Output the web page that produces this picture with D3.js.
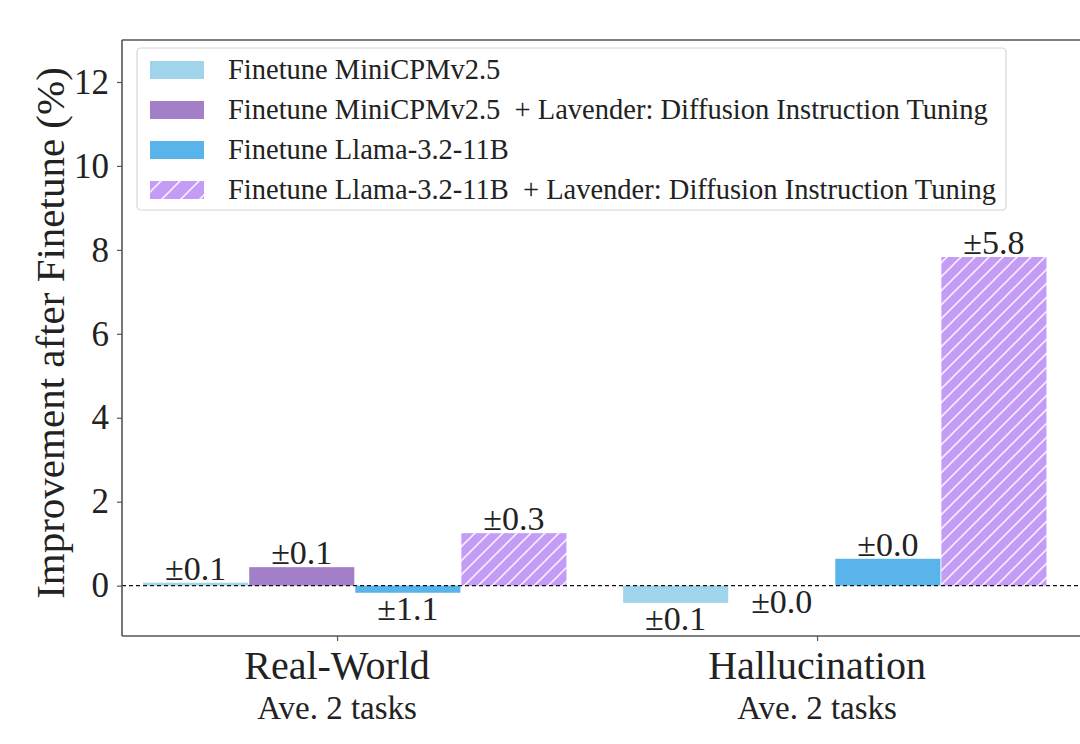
<!DOCTYPE html>
<html>
<head>
<meta charset="utf-8">
<script src="https://cdn.jsdelivr.net/npm/d3@7"></script>
<style>
  html, body { margin: 0; padding: 0; background: #fff; }
  svg { display: block; }
  text { font-family: "Liberation Serif", "Times New Roman", serif; fill: #222; }
</style>
</head>
<body>
<svg id="chart" width="1080" height="744"></svg>
<script>
// ---- data ----
const categories = ["Real-World", "Hallucination"];
const subLabels = ["Ave. 2 tasks", "Ave. 2 tasks"];
const seriesNames = [
  "Finetune MiniCPMv2.5",
  "Finetune MiniCPMv2.5  + Lavender: Diffusion Instruction Tuning",
  "Finetune Llama-3.2-11B",
  "Finetune Llama-3.2-11B  + Lavender: Diffusion Instruction Tuning"
];
const seriesColors = ["#9fd4ea", "#a27fc6", "#5ab4ec", "#c49cf6"];
const seriesHatched = [false, false, false, true];
// values[series][category]
const miniValues = [0.07, -0.41];
const miniLavValues = [0.44, 0.0];
const llamaValues = [-0.17, 0.64];
const llamaLavValues = [1.25, 7.83];
const miniErr = ["±0.1", "±0.1"];
const miniLavErr = ["±0.1", "±0.0"];
const llamaErr = ["±1.1", "±0.0"];
const llamaLavErr = ["±0.3", "±5.8"];
const yTicks = [0, 2, 4, 6, 8, 10, 12];

const values = [miniValues, miniLavValues, llamaValues, llamaLavValues];
const errs = [miniErr, miniLavErr, llamaErr, llamaLavErr];

// ---- layout ----
const svg = d3.select("#chart");
const plotLeft = 122, plotTop = 40, plotBottom = 636;
const x = d3.scaleLinear().domain([-0.448, 1.6]).range([plotLeft, plotLeft + 2.048 * 480]);
const y = d3.scaleLinear().domain([-1.2, 13]).range([plotBottom, plotTop]);
const barW = 0.219, barStart = -0.404, barStep = 0.221;

// hatch pattern
const defs = svg.append("defs");
const pat = defs.append("pattern").attr("id", "hatch")
  .attr("patternUnits", "userSpaceOnUse").attr("width", 14).attr("height", 14);
pat.append("rect").attr("width", 14).attr("height", 14).attr("fill", seriesColors[3]);
pat.append("path").attr("d", "M0,14 L14,0 M-3.5,3.5 L3.5,-3.5 M10.5,17.5 L17.5,10.5")
  .attr("stroke", "#f4ecff").attr("stroke-width", 1.6);

const pat2 = defs.append("pattern").attr("id", "hatchLeg")
  .attr("patternUnits", "userSpaceOnUse").attr("width", 19).attr("height", 19);
pat2.append("rect").attr("width", 19).attr("height", 19).attr("fill", seriesColors[3]);
pat2.append("path").attr("d", "M0,19 L19,0 M-4,4 L4,-4 M15,23 L23,15")
  .attr("stroke", "#f4ecff").attr("stroke-width", 1.6);

// clip
defs.append("clipPath").attr("id", "plotClip").append("rect")
  .attr("x", plotLeft).attr("y", plotTop).attr("width", 1080 - plotLeft).attr("height", plotBottom - plotTop);

// bars
const bars = [];
values.forEach((vals, s) => {
  vals.forEach((v, c) => bars.push({ s, c, v, err: errs[s][c] }));
});
const gBars = svg.append("g").attr("clip-path", "url(#plotClip)");
gBars.selectAll("rect.bar").data(bars).join("rect")
  .attr("class", "bar")
  .attr("x", d => x(d.c + barStart + d.s * barStep))
  .attr("width", d => x(barW) - x(0))
  .attr("y", d => y(Math.max(0, d.v)))
  .attr("height", d => Math.abs(y(d.v) - y(0)))
  .attr("fill", d => seriesHatched[d.s] ? "url(#hatch)" : seriesColors[d.s]);

// zero dashed line
svg.append("line")
  .attr("x1", plotLeft).attr("x2", 1080)
  .attr("y1", y(0)).attr("y2", y(0))
  .attr("stroke", "#111").attr("stroke-width", 1.1).attr("stroke-dasharray", "4,3");

// value labels
svg.selectAll("text.val").data(bars).join("text")
  .attr("class", "val")
  .attr("x", d => x(d.c + barStart + d.s * barStep + barW / 2))
  .attr("y", d => d.v > 0 ? y(d.v) - 3 : y(Math.min(0, d.v)) + 27)
  .attr("text-anchor", "middle")
  .attr("font-size", 34)
  .text(d => d.err);

// axes
const axisColor = "#555";
const yAxis = svg.append("g").attr("transform", `translate(${plotLeft},0)`)
  .call(d3.axisLeft(y).tickValues(yTicks).tickSize(5).tickPadding(8).tickFormat(d3.format("d")));
yAxis.select(".domain").remove();
yAxis.selectAll(".tick line").attr("stroke", axisColor).attr("stroke-width", 1.2);
yAxis.selectAll(".tick text").attr("font-size", 35).attr("font-family", "Liberation Serif, serif").attr("fill", "#222");

const xAxis = svg.append("g").attr("transform", `translate(0,${plotBottom})`)
  .call(d3.axisBottom(x).tickValues([0, 1]).tickSize(5).tickFormat(""));
xAxis.select(".domain").remove();
xAxis.selectAll(".tick line").attr("stroke", axisColor).attr("stroke-width", 1.2);

// category labels
categories.forEach((c, i) => {
  svg.append("text").attr("x", x(i)).attr("y", 679).attr("text-anchor", "middle")
    .attr("font-size", 40).text(c);
  svg.append("text").attr("x", x(i)).attr("y", 719).attr("text-anchor", "middle")
    .attr("font-size", 33).text(subLabels[i]);
});

// spines
svg.append("line").attr("x1", plotLeft).attr("x2", plotLeft).attr("y1", plotTop).attr("y2", plotBottom)
  .attr("stroke", axisColor).attr("stroke-width", 1.6);
svg.append("line").attr("x1", plotLeft).attr("x2", 1080).attr("y1", plotTop).attr("y2", plotTop)
  .attr("stroke", axisColor).attr("stroke-width", 1.6);
svg.append("line").attr("x1", plotLeft).attr("x2", 1080).attr("y1", plotBottom).attr("y2", plotBottom)
  .attr("stroke", axisColor).attr("stroke-width", 1.6);

// y label
svg.append("text")
  .attr("transform", `translate(64,${(66 + 600) / 2}) rotate(-90)`)
  .attr("text-anchor", "middle")
  .attr("font-size", 41)
  .text("Improvement after Finetune (%)");

// legend
const leg = svg.append("g");
leg.append("rect").attr("x", 137).attr("y", 48).attr("width", 869).attr("height", 162)
  .attr("rx", 4).attr("fill", "rgba(255,255,255,0.85)").attr("stroke", "#d6d6d6").attr("stroke-width", 1.2);
seriesNames.forEach((n, i) => {
  const cy = 70 + i * 40;
  leg.append("rect").attr("x", 150).attr("y", cy - 9).attr("width", 54).attr("height", 18)
    .attr("fill", seriesHatched[i] ? "url(#hatchLeg)" : seriesColors[i]);
  leg.append("text").attr("x", 228).attr("y", cy + 9).attr("font-size", 28.5)
    .style("white-space", "pre").text(n);
});
</script>
</body>
</html>
